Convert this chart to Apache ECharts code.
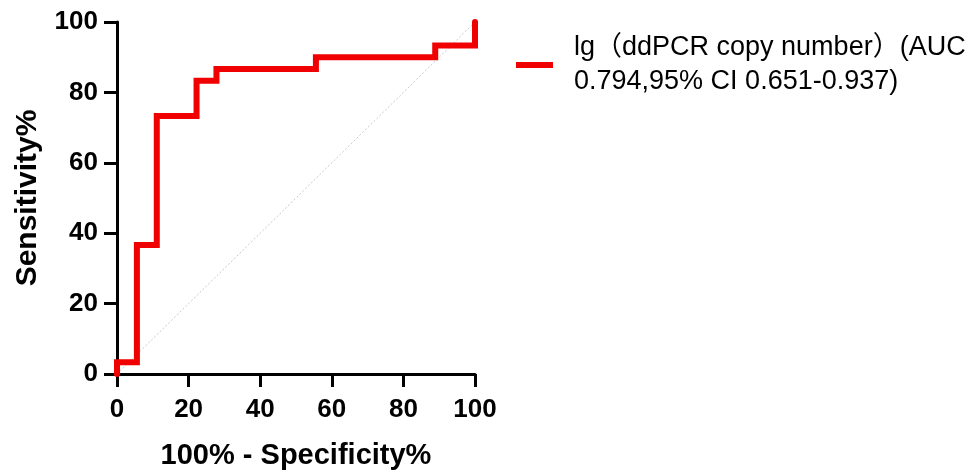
<!DOCTYPE html>
<html>
<head>
<meta charset="utf-8">
<script src="https://cdn.jsdelivr.net/npm/echarts@6/dist/echarts.min.js"></script>
<style>
html,body{margin:0;padding:0;background:#fff;}
#chart{width:971px;height:476px;}
</style>
</head>
<body>
<div id="chart"></div>
<script>
// ROC curve: x = 100% - Specificity%, y = Sensitivity%
const fpr = [0, 0, 5.56, 5.56, 11.11, 11.11, 22.22, 22.22, 27.78, 27.78, 55.56, 55.56, 88.89, 88.89, 100, 100];
const tpr = [0, 3.33, 3.33, 36.67, 36.67, 73.33, 73.33, 83.33, 83.33, 86.67, 86.67, 90, 90, 93.33, 93.33, 100];
const diagX = [0, 100];
const diagY = [0, 100];
const xTicks = [0, 20, 40, 60, 80, 100];
const yTicks = [0, 20, 40, 60, 80, 100];
const seriesName = 'lg（ddPCR copy number）(AUC\n0.794,95% CI 0.651-0.937)';
const xTitle = '100% - Specificity%';
const yTitle = 'Sensitivity%';

const font = '"Liberation Sans", Arial, "Noto Sans CJK SC", sans-serif';
const chart = echarts.init(document.getElementById('chart'), null, {renderer: 'canvas'});

const axisCommon = {
  type: 'value', min: 0, max: 100, interval: 20,
  axisLine: {show: true, lineStyle: {color: '#000', width: 3}},
  axisTick: {show: true, inside: false, length: 13, lineStyle: {color: '#000', width: 3}},
  splitLine: {show: false},
  nameLocation: 'middle',
  nameTextStyle: {fontFamily: font, fontWeight: 'bold', fontSize: 29, color: '#000'}
};

chart.setOption({
  animation: false,
  backgroundColor: '#fff',
  grid: {left: 117, right: 496, top: 22, bottom: 96, containLabel: false},
  legend: {
    show: true,
    data: [seriesName],
    left: 516, top: 29,
    padding: 0,
    orient: 'vertical',
    icon: 'rect',
    itemWidth: 37, itemHeight: 6,
    textStyle: {fontFamily: font, fontSize: 27, color: '#000', lineHeight: 34, padding: [4, 0, 0, 16]},
    selectedMode: false
  },
  xAxis: Object.assign({}, axisCommon, {
    name: xTitle, nameGap: 68,
    axisLabel: {margin: 23, fontFamily: font, fontWeight: 'bold', fontSize: 26, color: '#000',
      formatter: v => xTicks.includes(v) ? String(v) : ''}
  }),
  yAxis: Object.assign({}, axisCommon, {
    name: yTitle, nameGap: 74,
    nameTextStyle: {fontFamily: font, fontWeight: 'bold', fontSize: 30, color: '#000'},
    axisLabel: {margin: 19, fontFamily: font, fontWeight: 'bold', fontSize: 26, color: '#000',
      formatter: v => yTicks.includes(v) ? String(v) : ''}
  }),
  series: [
    {
      type: 'line', name: 'diag', silent: true,
      data: diagX.map((x, i) => [x, diagY[i]]),
      symbol: 'none',
      lineStyle: {color: '#c8c8c8', width: 1, type: [2, 2]},
      z: 1
    },
    {
      type: 'line', name: seriesName,
      data: fpr.map((x, i) => [x, tpr[i]]),
      symbol: 'none',
      color: '#f00000',
      lineStyle: {color: '#f00000', width: 6, cap: 'round', join: 'miter'},
      clip: false,
      z: 3
    }
  ]
});
</script>
</body>
</html>
